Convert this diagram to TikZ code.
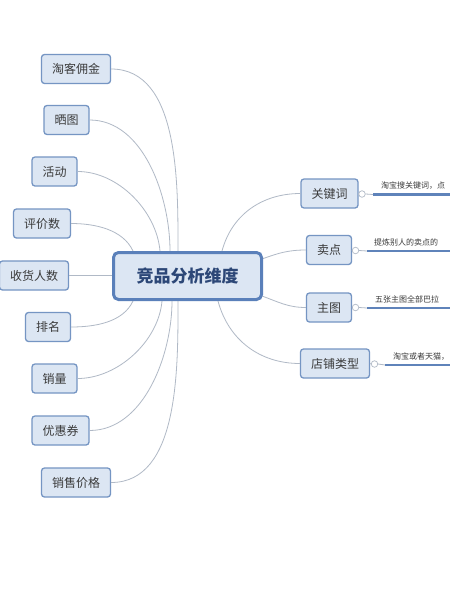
\documentclass[tikz,border=0pt]{standalone}
\usepackage{fontspec}
\setmainfont{Noto Sans CJK SC}
\definecolor{boxfill}{HTML}{DCE6F3}
\definecolor{boxline}{HTML}{7595C3}
\definecolor{mainline}{HTML}{5A80BA}
\definecolor{conn}{HTML}{B0B9C6}
\definecolor{txt}{HTML}{3A3A3A}
\definecolor{maintxt}{HTML}{2C4777}
\definecolor{bar}{HTML}{5F83BA}
\tikzset{
  leaf/.style={draw=boxline, line width=1.3pt, fill=boxfill, rounded corners=3pt,
    minimum height=29pt, inner xsep=10.5pt, inner ysep=0pt, text=txt, font=\fontsize{12}{12}\selectfont},
  hub/.style={draw=mainline, line width=3pt, fill=boxfill, rounded corners=5pt,
    minimum height=47pt, minimum width=148pt, text=maintxt, font=\fontsize{17}{17}\selectfont\bfseries},
  conline/.style={draw=conn, line width=0.8pt},
  knob/.style={circle, draw=conn, fill=white, line width=0.7pt, minimum size=6.5pt, inner sep=0pt},
  barline/.style={draw=bar, line width=2.2pt},
  note/.style={anchor=south west, inner sep=0pt, text=txt, font=\fontsize{8}{8}\selectfont}
}
\begin{document}
\begin{tikzpicture}[x=1pt,y=-1pt]
\useasboundingbox (0,0) rectangle (450,600);
\fill[white] (0,0) rectangle (450,600);

% attach points on hub border
\coordinate (t1) at (178,251);
\coordinate (t2) at (170,251);
\coordinate (t3) at (160,251);
\coordinate (t4) at (133,251);
\coordinate (u6) at (133,301);
\coordinate (u7) at (162,301);
\coordinate (u8) at (172,301);
\coordinate (u9) at (178,301);
\coordinate (r1) at (222,251);
\coordinate (r2) at (262,259);
\coordinate (r3) at (262,296);
\coordinate (r4) at (218,301);

\node[leaf] (a1) at (76,69) {淘客佣金};
\node[leaf] (a2) at (66.5,120) {晒图};
\node[leaf] (a3) at (54.5,171.5) {活动};
\node[leaf] (a4) at (42,223.5) {评价数};
\node[leaf] (a5) at (34,275.5) {收货人数};
\node[leaf] (a6) at (48,327) {排名};
\node[leaf] (a7) at (54.5,378.5) {销量};
\node[leaf] (a8) at (60.5,430.5) {优惠券};
\node[leaf] (a9) at (76,482.5) {销售价格};

\node[leaf] (b1) at (329.5,193.5) {关键词};
\node[leaf] (b2) at (329,250) {卖点};
\node[leaf] (b3) at (329,307.5) {主图};
\node[leaf] (b4) at (335,363.5) {店铺类型};

% connectors
\path[conline] (a1.east) to[out=0,in=90,looseness=0.9] (t1);
\path[conline] (a2.east) to[out=0,in=90,looseness=0.9] (t2);
\path[conline] (a3.east) to[out=0,in=95,looseness=0.9] (t3);
\path[conline] (a4.east) to[out=0,in=115,looseness=0.9] (t4);
\path[conline] (a5.east) -- (150,275.5);
\path[conline] (a6.east) to[out=0,in=-115,looseness=0.9] (u6);
\path[conline] (a7.east) to[out=0,in=-95,looseness=0.9] (u7);
\path[conline] (a8.east) to[out=0,in=-90,looseness=0.9] (u8);
\path[conline] (a9.east) to[out=0,in=-90,looseness=0.9] (u9);
\path[conline] (r1) to[out=75,in=180] (b1.west);
\path[conline] (r2) to[out=20,in=180] (b2.west);
\path[conline] (r3) to[out=-20,in=180] (b3.west);
\path[conline] (r4) to[out=-75,in=180] (b4.west);

% hub on top of connector ends
\node[hub] (ctr) at (187.5,276) {竞品分析维度};

% knobs and bars
\node[knob] (k1) at (362,194) {};
\node[knob] (k2) at (355.5,250.5) {};
\node[knob] (k3) at (355.5,307.5) {};
\node[knob] (k4) at (374.5,364) {};
\coordinate (s1) at (373,194.5);  \coordinate (e1) at (452,194.5);
\coordinate (s2) at (367,251);    \coordinate (e2) at (452,251);
\coordinate (s3) at (367,308);    \coordinate (e3) at (452,308);
\coordinate (s4) at (385,365);    \coordinate (e4) at (452,365);
\draw[conline] (b1.east) -- (k1.west);
\draw[conline] (b2.east) -- (k2.west);
\draw[conline] (b3.east) -- (k3.west);
\draw[conline] (b4.east) -- (k4.west);
\draw[conline] (k1.east) -- (s1);
\draw[conline] (k2.east) -- (s2);
\draw[conline] (k3.east) -- (s3);
\draw[conline] (k4.east) -- (s4);
\draw[barline] (s1) -- (e1);
\draw[barline] (s2) -- (e2);
\draw[barline] (s3) -- (e3);
\draw[barline] (s4) -- (e4);

\node[note] (n1) at (381,190) {淘宝搜关键词，点};
\node[note] (n2) at (374,246.5) {提炼别人的卖点的};
\node[note] (n3) at (375,303.5) {五张主图全部巴拉};
\node[note] (n4) at (393,360.5) {淘宝或者天猫，};
\end{tikzpicture}
\end{document}
